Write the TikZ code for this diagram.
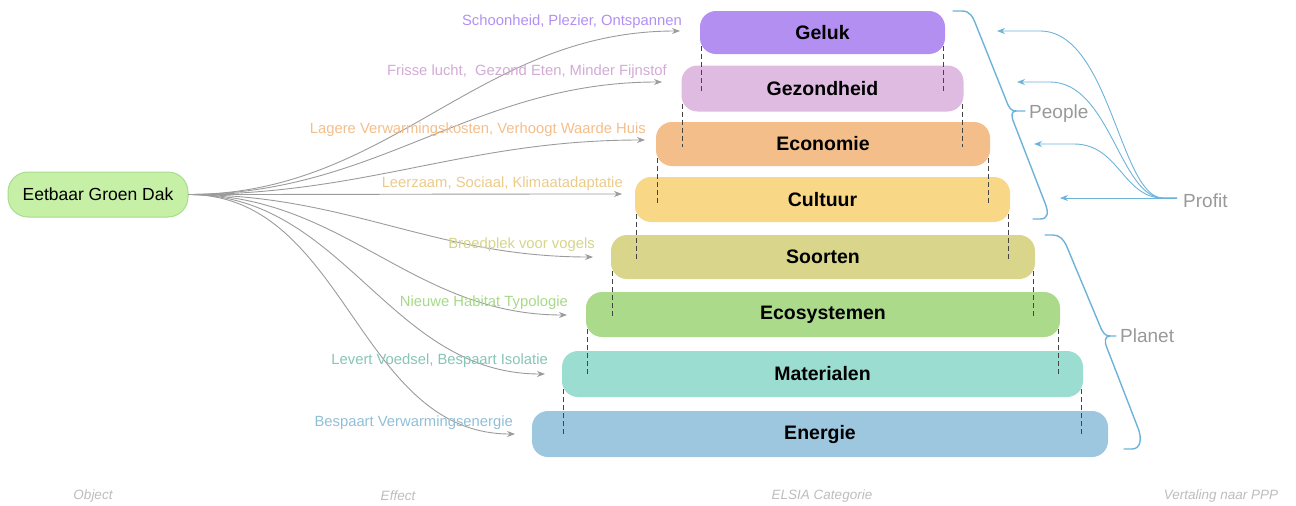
\documentclass[tikz,border=0pt]{standalone}
\usepackage{fontspec}
\setmainfont{Liberation Sans}
\usetikzlibrary{arrows.meta,calc}
\definecolor{cGeluk}{HTML}{B38FF2}
\definecolor{cGezond}{HTML}{DFBAE1}
\definecolor{cEcon}{HTML}{F4BE8A}
\definecolor{cCult}{HTML}{F8D886}
\definecolor{cSoort}{HTML}{D9D68B}
\definecolor{cEco}{HTML}{AADA8A}
\definecolor{cMat}{HTML}{9CDDD2}
\definecolor{cEne}{HTML}{9CC7DF}
\definecolor{lA}{HTML}{B38FF2}
\definecolor{lB}{HTML}{D2AAD6}
\definecolor{lC}{HTML}{F4BE8A}
\definecolor{lD}{HTML}{EBCB88}
\definecolor{lE}{HTML}{D6D48A}
\definecolor{lF}{HTML}{A6D989}
\definecolor{lG}{HTML}{86C5B5}
\definecolor{lH}{HTML}{8FBFD7}
\definecolor{srcfill}{HTML}{C5F0A5}
\definecolor{srcdraw}{HTML}{A8DC8E}
\definecolor{fanc}{HTML}{9B9B9B}
\definecolor{dashc}{HTML}{444444}
\definecolor{bluec}{HTML}{6DB3D9}
\definecolor{pppgray}{HTML}{999999}
\definecolor{axgray}{HTML}{BDBDBD}
\newcommand\dashpair[2]{%
  \draw[dashline] ($(#1.south west)+(1.5,-8)$) -- ($(#1.south west |- #2.center)+(1.5,3)$);
  \draw[dashline] ($(#1.south east)+(-1.5,-8)$) -- ($(#1.south east |- #2.center)+(-1.5,3)$);}
\begin{document}
\begin{tikzpicture}[x=1pt,y=-1pt,
  catbox/.style={rounded corners=16pt, inner sep=0pt, text=black,
    font=\fontsize{19.5}{22}\selectfont\bfseries},
  lbl/.style={inner sep=0pt, anchor=base east, font=\fontsize{14.8}{17}\selectfont},
  fan/.style={draw=fanc, line width=0.9pt, -{Stealth[length=8pt,width=6pt]}},
  dashline/.style={draw=dashc, line width=1pt, dash pattern=on 5pt off 3pt},
  brace/.style={draw=bluec, line width=1.4pt, line join=round, line cap=round},
  pline/.style={draw=bluec, line width=0.9pt, -{Stealth[length=8pt,width=6pt]}},
  ppp/.style={text=pppgray, font=\fontsize{19}{22}\selectfont, inner sep=0pt},
  axislbl/.style={text=axgray, font=\fontsize{13.5}{16}\selectfont\itshape, inner sep=0pt}]
\useasboundingbox (0,0) rectangle (1296,506);

% source node
\node[fill=srcfill, draw=srcdraw, line width=1pt, rounded corners=20pt,
  minimum width=180pt, minimum height=45pt, inner sep=0pt,
  font=\fontsize{17.5}{20}\selectfont] (src) at (98,194.5) {Eetbaar Groen Dak};

% category boxes
\node[catbox, fill=cGeluk, minimum width=245pt, minimum height=43pt] (geluk) at (822.5,32.5) {Geluk};
\node[catbox, fill=cGezond, minimum width=282pt, minimum height=46pt] (gezond) at (822.5,88.5) {Gezondheid};
\node[catbox, fill=cEcon, minimum width=334pt, minimum height=44pt] (econ) at (823,144) {Economie};
\node[catbox, fill=cCult, minimum width=375pt, minimum height=45pt] (cult) at (822.5,199.5) {Cultuur};
\node[catbox, fill=cSoort, minimum width=424pt, minimum height=44pt] (soort) at (823,257) {Soorten};
\node[catbox, fill=cEco, minimum width=474pt, minimum height=45pt] (eco) at (823,314.5) {Ecosystemen};
\node[catbox, fill=cMat, minimum width=521pt, minimum height=46pt] (mat) at (822.5,374) {Materialen};
\node[catbox, fill=cEne, minimum width=576pt, minimum height=46pt] (ene) at (820,434) {Energie};

% dashed guide lines
\dashpair{geluk}{gezond}
\dashpair{gezond}{econ}
\dashpair{econ}{cult}
\dashpair{cult}{soort}
\dashpair{soort}{eco}
\dashpair{eco}{mat}
\dashpair{mat}{ene}

% effect arrow targets
\coordinate (t1) at (680,31);
\coordinate (t2) at (662,82);
\coordinate (t3) at (645,140);
\coordinate (t4) at (622,194);
\coordinate (t5) at (593,257);
\coordinate (t6) at (567,315);
\coordinate (t7) at (545,374);
\coordinate (t8) at (515,434);

\draw[fan] (src.east) to[out=0,in=180] (t1);
\draw[fan] (src.east) to[out=0,in=180] (t2);
\draw[fan] (src.east) to[out=0,in=180] (t3);
\draw[fan] (src.east) to[out=0,in=180] (t4);
\draw[fan] (src.east) to[out=0,in=180] (t5);
\draw[fan] (src.east) to[out=0,in=180] (t6);
\draw[fan] (src.east) to[out=0,in=180] (t7);
\draw[fan] (src.east) to[out=0,in=180] (t8);

\node[lbl, text=lA] (l1) at ($(t1)+(2,-6)$) {Schoonheid, Plezier, Ontspannen};
\node[lbl, text=lB] (l2) at ($(t2)+(5,-7)$) {Frisse lucht,\ \ Gezond Eten, Minder Fijnstof};
\node[lbl, text=lC] (l3) at ($(t3)+(1,-7)$) {Lagere Verwarmingskosten, Verhoogt Waarde Huis};
\node[lbl, text=lD] (l4) at ($(t4)+(1,-7)$) {Leerzaam, Sociaal, Klimaatadaptatie};
\node[lbl, text=lE] (l5) at ($(t5)+(2,-9)$) {Broedplek voor vogels};
\node[lbl, text=lF] (l6) at ($(t6)+(1,-9)$) {Nieuwe Habitat Typologie};
\node[lbl, text=lG] (l7) at ($(t7)+(3,-10)$) {Levert Voedsel, Bespaart Isolatie};
\node[lbl, text=lH] (l8) at ($(t8)+(-2,-8)$) {Bespaart Verwarmingsenergie};

% braces
\draw[brace] (953,11) -- (962,11) .. controls (970,11) and (973,17) .. (976,25)
  -- (1006,100) .. controls (1009,108) and (1011,111) .. (1016,111) -- (1025,111);
\draw[brace] (1016,111) .. controls (1011,111) and (1011,116) .. (1014,123)
  -- (1045,203) .. controls (1049,213) and (1048,219) .. (1040,219) -- (1033,219);
\draw[brace] (1045,235) -- (1053,235) .. controls (1060,235) and (1064,240) .. (1067,247)
  -- (1100,326) .. controls (1103,333) and (1105,336) .. (1110,336) -- (1116,336);
\draw[brace] (1110,336) .. controls (1105,336) and (1104,341) .. (1107,348)
  -- (1138,428) .. controls (1142,438) and (1141,449) .. (1132,449) -- (1124,449);

\node[ppp, anchor=west] (people) at (1029,113.5) {People};
\node[ppp, anchor=west] (planet) at (1120,336) {Planet};
\node[ppp, anchor=west, inner xsep=6pt] (profit) at (1177,200.5) {Profit};
\coordinate (pstart) at ($(profit.west)+(0,-2.5)$);

% profit arrows
\coordinate (a1) at (997,31);
\coordinate (a2) at (1017,82);
\coordinate (a3) at (1034,144);
\coordinate (a4) at (1060,198);
\draw[pline] (pstart) -- ++(-14,0) .. controls +(-43,0) and +(70,0) .. ($(a1)+(43,0)$) -- (a1);
\draw[pline] (pstart) -- ++(-14,0) .. controls +(-43,0) and +(60,0) .. ($(a2)+(33,0)$) -- (a2);
\draw[pline] (pstart) -- ++(-14,0) .. controls +(-40,0) and +(45,0) .. ($(a3)+(40,0)$) -- (a3);
\draw[pline] (pstart) -- (a4);

% column captions
\node[axislbl] (c1) at (93,496) {Object};
\node[axislbl] (c2) at (398,496) {Effect};
\node[axislbl] (c3) at (822,496) {ELSIA Categorie};
\node[axislbl] (c4) at (1221,496) {Vertaling naar PPP};
\end{tikzpicture}
\end{document}
